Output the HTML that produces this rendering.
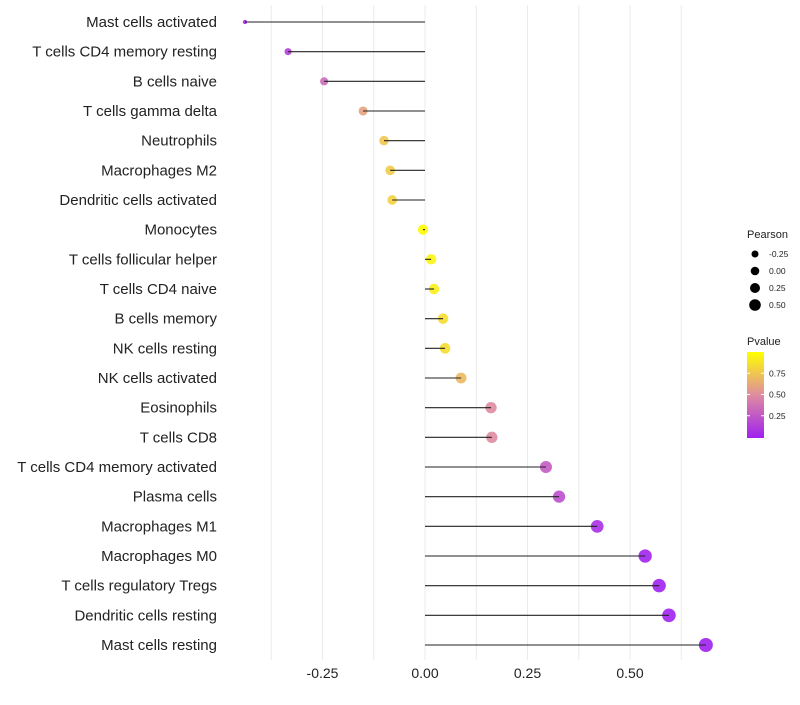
<!DOCTYPE html>
<html><head><meta charset="utf-8"><style>
body{margin:0;background:#fff;font-family:"Liberation Sans",sans-serif}
</style></head><body>
<svg id="chart" width="800" height="700" xmlns="http://www.w3.org/2000/svg"></svg>
<script>
const categories=["Mast cells activated","T cells CD4 memory resting","B cells naive","T cells gamma delta","Neutrophils","Macrophages M2","Dendritic cells activated","Monocytes","T cells follicular helper","T cells CD4 naive","B cells memory","NK cells resting","NK cells activated","Eosinophils","T cells CD8","T cells CD4 memory activated","Plasma cells","Macrophages M1","Macrophages M0","T cells regulatory  Tregs","Dendritic cells resting","Mast cells resting"];
const pearson=[-0.439,-0.334,-0.246,-0.151,-0.100,-0.085,-0.080,-0.005,0.015,0.022,0.044,0.049,0.088,0.161,0.163,0.295,0.327,0.420,0.537,0.571,0.595,0.685];
const pvalue=[0.03,0.15,0.35,0.6,0.75,0.78,0.8,0.98,0.95,0.92,0.85,0.85,0.7,0.5,0.5,0.28,0.22,0.07,0.02,0.01,0.005,0.001];
const xTicks=[-0.25,0,0.25,0.5];
const xTickLabels=["-0.25","0.00","0.25","0.50"];
const legendSizes=[-0.25,0,0.25,0.5];
const legendSizeLabels=["-0.25","0.00","0.25","0.50"];
const pTicks=[0.25,0.5,0.75];
const pTickLabels=["0.25","0.50","0.75"];

const NS="http://www.w3.org/2000/svg";
const svg=document.getElementById('chart');
const x=v=>425+v*410;
const y=i=>22+i*(623/21);
const rad=v=>2+5*Math.sqrt(Math.max(0,(v+0.44)/1.125));
function mk(t,a,p){const e=document.createElementNS(NS,t);for(const k in a)e.setAttribute(k,a[k]);(p||svg).appendChild(e);return e;}
function lerp(a,b,t){return a.map((c,i)=>Math.round(c+(b[i]-c)*t));}
function col(p){const s0=[160,32,240],s1=[222,140,160],s2=[255,255,0];
 const c=p<0.5?lerp(s0,s1,p/0.5):lerp(s1,s2,(p-0.5)/0.5);return `rgb(${c[0]},${c[1]},${c[2]})`;}

for(let v=-0.375;v<=0.626;v+=0.125){const g=mk('line',{x1:x(v),x2:x(v),y1:5,y2:660,stroke:'#ebebeb','stroke-width':1});
}
xTicks.forEach((v,i)=>{const t=mk('text',{x:x(v),y:678,'text-anchor':'middle','font-size':14,fill:'#222'});t.textContent=xTickLabels[i];
});

categories.forEach((c,i)=>{
 const t=mk('text',{x:217,y:y(i)+5,'text-anchor':'end','font-size':15,fill:'#222'});t.textContent=c;
 
 const d=mk('circle',{cx:x(pearson[i]),cy:y(i),r:rad(pearson[i]),fill:col(pvalue[i]),'fill-opacity':0.9});
 
 const l=mk('line',{x1:x(0),x2:x(pearson[i]),y1:y(i),y2:y(i),stroke:'#222','stroke-width':1.1});
 
});

const lt=mk('text',{x:747,y:238,'font-size':11,fill:'#222'});lt.textContent='Pearson';

const lr=[3.5,4.3,5.0,5.8];
legendSizes.forEach((v,i)=>{const cy=254+i*17;
 const c=mk('circle',{cx:755,cy:cy,r:lr[i],fill:'#000'});
 const t=mk('text',{x:769,y:cy+3,'font-size':8.5,fill:'#222'});t.textContent=legendSizeLabels[i];
 });
const pt=mk('text',{x:747,y:345,'font-size':11,fill:'#222'});pt.textContent='Pvalue';

const defs=mk('defs',{});const gr=mk('linearGradient',{id:'pg',x1:0,y1:1,x2:0,y2:0},defs);
[0,0.25,0.5,0.75,1].forEach(p=>mk('stop',{offset:p,'stop-color':col(p)},gr));
const cb=mk('rect',{x:747,y:352,width:17,height:86,fill:'url(#pg)'});

const py=p=>437-p*85;
pTicks.forEach((p,i)=>{mk('line',{x1:747,x2:750,y1:py(p),y2:py(p),stroke:'#fff'});mk('line',{x1:761,x2:764,y1:py(p),y2:py(p),stroke:'#fff'});
 const t=mk('text',{x:769,y:py(p)+3,'font-size':8.5,fill:'#222'});t.textContent=pTickLabels[i];
 });
</script>
</body></html>
